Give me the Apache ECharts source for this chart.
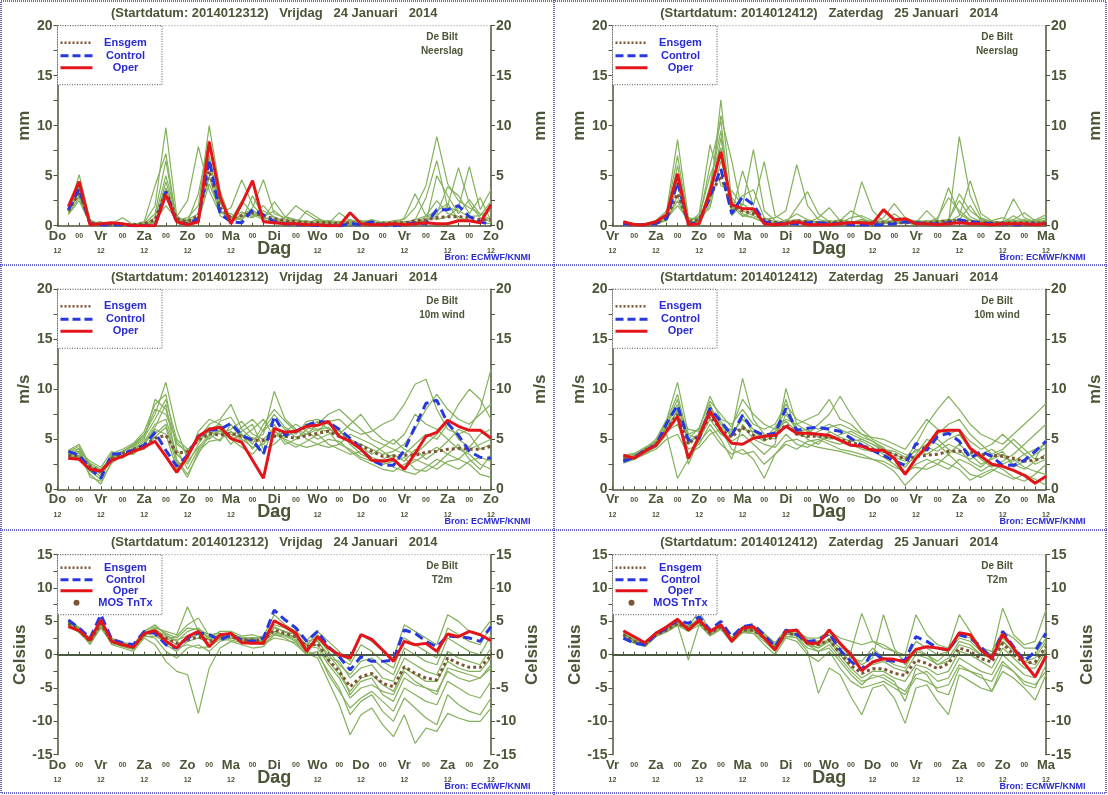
<!DOCTYPE html>
<html>
<head>
<meta charset="utf-8">
<title>De Bilt pluim</title>
<script src="https://cdn.jsdelivr.net/npm/echarts@6/dist/echarts.min.js"></script>
<style>
  html, body { margin: 0; padding: 0; background: #fff; }
  #chart { width: 1108px; height: 795px; }
</style>
</head>
<body>
<div id="chart"></div>
<script>
// forecast hours after start (every 6h)
var hours = [6,12,18,24,30,36,42,48,54,60,66,72,78,84,90,96,102,108,114,120,
             126,132,138,144,150,156,162,168,174,180,186,192,198,204,210,216,222,228,234,240];
var daysLeft  = ['Do','Vr','Za','Zo','Ma','Di','Wo','Do','Vr','Za','Zo'];
var daysRight = ['Vr','Za','Zo','Ma','Di','Wo','Do','Vr','Za','Zo','Ma'];
var titleLeft  = '(Startdatum: 2014012312)   Vrijdag   24 Januari   2014';
var titleRight = '(Startdatum: 2014012412)   Zaterdag   25 Januari   2014';

// ---- neerslag 23 jan 12 ----
var rainL_oper = [1.9,4.4,0.1,0.2,0.3,0.2,0.0,0.0,0.0,3.1,0.4,0.1,0.4,8.4,2.9,0.2,2.2,4.5,0.4,0.3,0.2,0.2,0.1,0.1,0.0,0.0,1.3,0.2,0.1,0.1,0.2,0.1,0.2,0.3,0.2,0.2,0.5,0.5,0.3,2.1];
var rainL_ctrl = [1.6,3.7,0.2,0.1,0.1,0.1,0.0,0.0,0.0,3.4,0.3,0.2,0.7,6.6,1.2,0.4,0.3,1.6,1.1,0.4,0.2,0.1,0.1,0.0,0.0,0.0,0.2,0.1,0.4,0.1,0.0,0.1,0.3,0.2,1.6,1.6,2.0,0.9,0.4,0.1];
var rainL_mean = [1.5,3.3,0.3,0.1,0.1,0.1,0.1,0.2,0.6,3.5,0.7,0.4,1.0,5.5,1.8,0.8,1.0,1.3,1.0,0.7,0.5,0.4,0.3,0.3,0.3,0.2,0.3,0.2,0.2,0.2,0.3,0.3,0.5,0.6,0.8,0.9,0.9,0.8,0.6,0.6];
var rainL_members = [
  [1.4,3.6,0.2,0.1,0.0,0.0,0.1,0.3,2.0,9.8,1.0,0.2,0.5,4.2,1.5,0.6,2.5,1.2,0.8,0.5,0.3,0.2,0.1,0.2,0.3,0.1,0.2,0.1,0.1,0.3,0.2,0.1,0.6,1.0,2.5,1.2,0.9,0.5,0.4,0.8],
  [1.6,3.0,0.1,0.0,0.1,0.2,0.0,0.1,0.4,3.0,0.5,0.8,2.0,10.0,3.5,0.5,1.0,0.8,1.5,0.9,0.4,0.6,0.2,0.4,0.2,0.3,0.4,0.2,0.3,0.2,0.5,0.6,1.8,4.0,8.9,4.2,2.5,1.8,1.2,0.6],
  [1.2,2.8,0.3,0.2,0.1,0.0,0.0,0.1,0.8,5.0,0.9,2.5,7.9,3.5,1.2,1.8,4.6,2.1,0.8,0.6,0.3,0.3,0.5,0.2,0.1,0.0,0.3,0.4,0.2,0.1,0.2,0.2,0.3,0.5,1.0,2.0,5.8,2.2,0.8,0.4],
  [1.8,4.2,0.4,0.1,0.1,0.1,0.2,0.1,0.5,2.0,0.6,0.3,0.6,6.5,2.2,0.9,0.6,1.8,4.6,1.2,0.8,0.5,0.3,0.6,0.4,0.2,0.1,0.3,0.6,0.3,0.1,0.8,3.2,1.0,0.6,0.9,1.8,5.9,1.6,3.6],
  [1.3,3.4,0.2,0.4,0.0,0.1,0.0,0.2,1.2,6.5,0.3,0.5,0.8,5.0,1.0,0.4,0.8,1.1,0.6,0.4,0.8,2.0,1.2,0.5,0.3,0.2,0.6,0.3,0.2,0.1,0.2,0.1,0.2,0.3,5.0,3.0,1.2,2.6,1.1,1.5],
  [1.5,5.1,0.6,0.1,0.2,0.8,0.1,0.0,0.3,3.8,0.8,0.2,0.4,7.0,1.3,1.2,0.5,3.0,0.9,1.5,0.6,0.3,0.2,0.3,0.5,0.4,0.2,0.1,0.1,0.4,0.3,0.2,0.3,0.9,1.5,2.2,0.6,0.5,0.3,0.2],
  [1.7,3.9,0.1,0.1,0.0,0.1,0.1,0.4,4.0,7.2,0.4,0.6,1.2,4.8,2.5,0.7,1.4,0.9,2.0,0.7,0.4,0.2,1.5,0.8,0.2,1.3,0.5,0.2,0.3,0.2,0.4,0.3,0.6,2.8,6.5,1.8,1.5,0.9,1.0,2.4],
  [1.1,2.5,0.2,0.0,0.1,0.0,0.0,0.2,0.2,4.4,0.6,0.4,3.2,8.5,1.6,0.3,1.2,1.6,0.7,2.4,0.9,0.6,0.4,0.2,0.1,0.2,0.3,0.5,0.4,0.1,0.2,0.4,0.4,0.6,1.2,3.9,3.0,1.2,2.8,0.5]
];

// ---- neerslag 24 jan 12 ----
var rainR_oper = [0.4,0.1,0.1,0.4,1.1,5.2,0.1,0.2,3.4,7.4,2.1,1.7,1.7,0.2,0.1,0.2,0.4,0.1,0.1,0.1,0.2,0.3,0.3,0.2,1.6,0.6,0.7,0.2,0.2,0.1,0.2,0.3,0.2,0.2,0.1,0.2,0.2,0.2,0.1,0.2];
var rainR_ctrl = [0.2,0.1,0.1,0.2,0.7,4.4,0.1,0.4,2.9,5.7,1.2,2.9,2.1,0.4,0.2,0.2,0.2,0.3,0.3,0.2,0.2,0.1,0.1,0.1,0.1,0.2,0.4,0.3,0.2,0.2,0.3,0.6,0.4,0.3,0.2,0.2,0.1,0.1,0.2,0.2];
var rainR_mean = [0.3,0.1,0.1,0.3,0.8,3.2,0.4,0.6,3.0,5.0,1.8,1.5,1.2,0.6,0.3,0.3,0.5,0.4,0.3,0.3,0.4,0.3,0.3,0.3,0.3,0.3,0.3,0.3,0.3,0.4,0.5,0.5,0.4,0.3,0.3,0.3,0.3,0.3,0.3,0.3];
var rainR_members = [
  [0.3,0.1,0.2,0.5,1.5,8.6,0.8,0.5,2.5,12.6,2.5,1.0,0.8,0.4,0.2,0.5,1.2,0.6,0.3,0.2,0.1,0.3,0.6,0.4,0.2,0.5,0.3,0.1,0.2,0.3,0.6,2.5,0.9,0.4,0.3,0.2,0.4,0.3,0.2,0.5],
  [0.2,0.0,0.1,0.2,0.6,2.5,0.2,1.2,8.1,4.0,3.5,2.0,7.6,1.5,0.5,0.3,0.2,0.3,0.2,0.5,0.3,0.2,0.4,0.3,0.2,0.4,0.6,0.3,0.5,0.4,0.3,8.9,3.0,0.8,0.4,0.3,0.5,0.6,0.3,0.2],
  [0.4,0.2,0.1,0.3,1.0,4.5,0.1,0.3,4.0,9.5,1.2,5.5,2.0,6.4,1.0,0.4,0.3,0.2,0.1,0.3,0.6,0.4,0.2,0.3,0.5,0.3,0.2,0.4,0.3,0.8,2.8,1.5,0.6,0.3,0.2,0.4,2.7,0.8,0.4,0.3],
  [0.3,0.1,0.0,0.4,0.9,6.0,0.5,0.8,1.8,6.5,2.8,1.5,1.0,0.6,0.8,1.5,6.1,2.0,0.6,0.4,0.3,0.8,1.0,0.5,0.3,1.2,0.4,0.3,0.2,0.5,0.4,1.0,4.5,1.2,0.5,0.8,0.4,0.3,0.6,1.1],
  [0.2,0.1,0.1,0.2,0.5,3.0,0.3,0.4,3.5,11.0,6.5,1.2,0.8,0.3,0.2,0.4,0.6,0.3,0.8,1.8,0.5,0.3,4.4,1.5,0.4,0.3,0.5,0.2,0.3,0.4,0.6,0.5,0.3,0.6,0.3,0.2,0.3,0.5,0.4,0.2],
  [0.4,0.2,0.1,0.3,0.7,2.0,0.6,0.9,5.0,7.8,1.5,3.0,3.6,0.8,0.4,0.2,1.8,3.4,1.2,0.4,0.2,0.3,0.6,0.3,0.8,2.2,0.8,0.4,0.3,0.6,3.8,1.2,0.5,0.3,0.2,0.3,1.0,0.4,0.3,0.6],
  [0.3,0.1,0.1,0.3,1.2,7.0,0.4,0.2,2.2,8.8,2.0,0.9,1.5,0.5,0.3,0.3,0.4,0.5,0.4,0.3,0.5,1.5,0.8,0.2,0.3,0.6,0.4,0.3,1.5,0.4,0.3,0.6,2.0,0.5,0.3,0.4,0.6,1.3,0.5,0.4],
  [0.2,0.1,0.1,0.4,0.8,4.0,0.2,0.7,6.0,10.5,1.0,2.2,1.4,0.4,0.2,0.6,0.3,0.2,0.3,0.2,0.4,0.2,0.3,0.5,0.3,0.2,0.3,0.5,0.4,0.2,0.5,3.2,1.5,0.7,0.4,0.3,0.2,0.4,0.5,0.8]
];

// ---- 10m wind 23 jan 12 ----
var windL_oper = [3.1,3.0,2.0,1.8,2.9,3.3,3.8,4.2,4.8,3.3,1.7,3.3,5.3,6.0,6.2,5.1,4.7,2.9,1.1,6.1,5.7,5.8,6.3,6.4,6.8,5.3,4.8,4.0,2.9,2.8,3.0,2.0,3.6,5.3,5.7,6.9,6.3,5.9,5.9,5.1];
var windL_ctrl = [3.8,3.4,2.1,1.1,3.5,3.6,3.9,4.4,5.7,3.9,2.3,3.4,5.3,5.9,6.0,6.6,5.4,4.9,3.5,7.3,5.4,5.8,6.4,6.8,6.7,6.0,5.1,4.1,2.9,2.4,2.4,3.9,6.3,8.6,8.9,6.6,5.4,3.8,3.2,3.1];
var windL_mean = [3.4,3.3,2.3,1.8,3.1,3.6,4.0,4.4,5.1,5.4,3.6,3.8,4.9,5.6,5.4,5.6,5.3,4.9,4.9,5.3,5.3,5.1,5.4,5.6,5.8,5.3,4.9,4.4,3.8,3.3,3.3,3.4,3.4,3.7,3.8,4.0,4.1,4.0,4.0,4.3];
var windL_members = [
  [3.5,4.0,2.5,1.5,3.2,3.8,4.5,5.5,7.5,10.7,6.0,3.0,5.8,7.0,6.5,5.0,5.5,4.0,6.0,7.5,6.2,5.5,6.8,7.0,6.5,5.8,5.0,4.5,4.0,3.5,3.8,4.5,6.0,8.0,9.5,8.0,7.0,6.5,7.5,8.5],
  [3.0,3.2,1.5,0.5,2.8,3.5,3.8,4.0,5.5,6.5,3.0,1.5,3.5,5.5,5.8,5.0,4.2,3.5,4.8,5.5,5.0,4.5,4.2,4.5,5.0,4.8,3.8,3.0,2.5,2.0,1.8,2.5,3.0,2.5,2.0,2.8,3.0,2.5,1.5,1.2],
  [3.8,4.3,2.2,1.2,3.5,3.3,4.2,5.0,9.0,8.0,4.5,3.8,5.0,6.5,7.0,8.5,6.0,5.0,5.5,9.8,7.0,6.0,5.5,6.5,7.5,8.0,7.0,6.0,5.0,4.5,4.0,3.5,4.5,5.5,5.0,6.5,8.5,10.0,9.0,7.0],
  [3.3,3.6,2.0,1.8,3.0,3.6,3.5,4.5,6.0,5.5,2.0,3.2,5.5,5.0,6.0,4.5,5.8,6.5,4.0,4.5,5.5,6.0,5.0,4.5,4.2,4.5,5.5,5.0,4.5,3.8,3.0,2.2,2.8,3.5,4.2,3.5,3.0,4.0,4.5,5.0],
  [3.6,3.8,2.8,2.2,3.8,3.2,4.0,4.8,6.5,7.0,3.5,2.5,4.5,6.2,5.5,6.0,6.8,5.5,5.0,6.0,4.5,5.0,6.0,6.8,6.0,5.5,6.5,7.5,6.0,5.0,4.5,5.5,7.5,6.5,6.0,5.0,4.0,3.5,2.5,2.0],
  [3.2,3.4,1.8,1.0,3.3,3.8,4.3,5.2,7.0,9.0,5.0,4.0,4.8,5.8,6.2,5.5,5.2,6.0,7.0,5.2,5.8,6.5,5.8,5.0,5.5,6.0,4.5,3.5,3.0,2.5,2.8,3.2,2.0,1.8,2.5,3.5,4.5,3.0,2.0,3.5],
  [3.9,4.5,2.4,1.5,3.6,4.0,4.6,5.8,8.5,9.5,4.0,2.0,4.0,5.2,6.8,7.2,5.5,4.5,6.5,8.0,6.8,5.8,6.2,5.8,6.8,7.0,6.0,5.5,5.8,6.5,7.0,8.5,10.5,11.0,8.0,6.0,5.5,6.0,8.0,12.0],
  [3.4,3.7,2.3,1.9,3.4,3.1,3.9,4.6,6.2,8.5,2.8,1.2,3.8,4.8,5.0,5.8,4.8,5.2,3.5,6.5,4.8,4.2,4.8,5.5,4.5,4.0,3.5,3.8,3.2,2.8,2.2,1.8,1.5,2.2,3.0,2.5,2.0,2.8,3.2,2.8],
  [3.1,3.3,2.6,2.0,3.1,3.7,4.4,5.4,8.0,7.5,4.8,3.5,5.2,6.0,6.5,5.2,6.2,7.0,5.8,7.0,6.0,5.2,5.5,6.0,6.2,5.2,4.8,4.2,3.5,4.2,5.0,4.0,3.5,4.5,5.5,6.8,5.0,4.2,5.5,6.0],
  [3.7,4.1,1.2,0.8,2.6,3.4,3.6,4.2,5.2,6.2,2.5,2.8,4.2,5.5,4.8,6.5,5.0,4.2,4.5,5.8,5.2,5.8,6.5,6.0,5.8,4.5,4.0,3.2,2.8,3.0,3.5,2.8,4.0,3.0,3.8,4.8,6.0,5.5,4.0,4.5]
];

// ---- 10m wind 24 jan 12 ----
var windR_oper = [3.4,3.1,3.8,4.4,5.8,7.3,3.1,5.3,7.8,5.9,4.6,4.5,5.1,5.3,5.4,6.3,5.6,5.6,5.5,5.4,4.9,4.4,4.3,3.9,3.9,3.1,1.5,3.1,4.3,5.8,5.9,5.9,4.1,3.3,2.5,2.3,1.9,1.4,0.6,1.3];
var windR_ctrl = [2.8,3.2,3.9,4.4,6.6,8.4,4.9,5.1,8.1,6.8,5.4,7.4,5.9,5.4,5.6,8.1,5.9,6.1,6.2,6.0,5.8,5.1,4.4,3.9,3.4,2.8,2.4,4.6,3.9,5.3,5.6,4.8,3.1,3.8,3.3,2.4,2.4,2.9,3.8,4.8];
var windR_mean = [3.0,3.2,3.9,4.5,6.0,7.5,4.5,5.5,7.3,6.0,5.2,6.2,5.4,5.0,5.2,6.5,5.5,5.3,5.3,5.2,5.0,4.7,4.4,4.0,3.8,3.5,3.0,3.3,3.4,3.5,3.8,3.8,3.7,3.5,3.4,3.3,3.1,2.8,2.9,3.3];
var windR_members = [
  [3.0,3.3,4.0,5.0,7.0,10.7,5.5,6.0,9.3,7.0,6.5,8.0,6.5,6.0,6.5,8.5,7.0,6.5,6.0,6.5,6.0,5.5,5.0,4.5,4.0,3.5,3.0,4.5,6.5,8.0,9.3,8.0,6.5,5.5,5.0,4.5,5.5,6.5,7.5,8.6],
  [2.6,3.0,3.6,4.2,5.5,1.1,3.0,4.8,6.0,4.5,3.5,4.0,3.0,1.1,3.5,4.5,4.0,4.8,5.0,4.5,4.0,3.8,3.5,3.0,2.5,1.8,0.4,1.5,2.5,3.0,2.5,2.0,0.9,1.5,2.0,1.5,1.0,1.5,1.0,0.4],
  [3.3,3.5,4.2,4.8,6.5,9.0,4.5,5.5,8.5,6.0,5.8,11.1,7.0,5.5,5.0,7.5,6.0,5.5,6.5,7.5,9.3,7.5,6.0,5.0,4.5,4.0,3.5,3.0,4.0,5.5,6.5,7.0,5.5,4.5,3.5,4.0,5.0,4.0,3.0,5.0],
  [2.8,3.1,3.8,4.5,6.0,8.0,2.5,5.0,7.0,5.5,4.8,5.5,4.5,3.5,4.5,10.1,6.5,5.8,5.5,5.0,5.5,5.8,5.2,4.8,4.2,3.0,2.2,3.5,5.0,4.5,3.5,4.5,3.5,2.5,3.0,3.5,2.5,2.0,2.8,3.5],
  [3.1,3.4,3.9,4.6,6.2,7.8,6.0,5.8,8.0,6.5,5.5,7.0,6.0,5.2,5.8,6.8,5.8,6.0,5.2,4.8,4.5,5.0,4.8,4.2,3.5,3.2,2.8,4.0,3.5,4.2,5.0,5.5,4.0,3.0,2.2,2.8,3.5,4.5,5.5,6.5],
  [2.9,3.2,3.7,4.3,5.8,6.5,4.0,4.5,6.5,5.0,3.0,6.5,5.0,4.5,4.2,5.5,4.5,4.2,4.8,5.2,5.0,4.5,4.0,3.8,3.2,2.5,1.5,2.5,3.0,2.5,2.0,3.0,2.5,1.8,2.5,2.0,1.2,0.8,1.5,2.5],
  [3.4,3.6,4.1,4.7,6.8,9.5,5.0,6.2,8.8,7.5,6.2,9.0,7.5,6.5,6.0,7.0,6.5,7.0,7.5,9.0,7.0,6.5,5.5,5.2,5.0,4.5,4.0,5.5,7.0,6.0,5.5,6.0,4.8,4.0,4.5,5.5,4.5,3.5,4.0,4.5],
  [2.7,3.0,3.5,4.0,5.0,5.5,3.5,4.2,5.5,6.0,4.0,3.5,3.8,2.5,3.5,4.8,5.0,4.5,4.2,4.0,3.8,3.5,3.2,3.0,2.8,2.2,1.8,2.2,2.0,2.5,3.5,2.5,1.5,1.2,1.8,2.5,3.0,2.2,1.8,1.5],
  [3.2,3.3,4.0,4.4,6.4,8.5,4.8,5.5,7.5,6.8,5.2,7.5,5.5,4.8,5.5,9.0,5.5,5.2,5.8,6.2,6.5,6.0,5.5,4.8,4.0,3.8,3.2,3.8,4.5,5.0,4.0,3.5,3.0,3.5,4.0,3.2,2.8,3.5,2.5,3.0],
  [3.0,3.2,3.8,4.6,6.0,7.2,5.5,5.0,8.2,6.2,6.0,6.0,5.8,5.0,6.2,7.8,6.2,5.0,4.5,5.8,5.2,4.8,5.0,4.5,3.8,3.0,2.5,3.2,4.2,3.8,4.5,4.0,2.8,2.2,3.2,3.8,2.2,2.8,3.5,4.2]
];

// ---- T2m 23 jan 12 ----
var tempL_oper = [4.2,3.6,2.2,5.2,2.0,1.5,1.1,3.2,3.6,2.0,1.0,2.7,3.5,1.2,3.0,3.2,1.8,1.7,1.7,5.1,4.2,3.2,0.5,2.7,1.0,0.0,-0.5,3.0,2.3,0.7,-1.0,2.0,1.5,1.7,0.5,3.1,2.7,3.5,3.0,2.1];
var tempL_ctrl = [5.2,4.0,2.5,6.0,2.3,1.8,1.5,3.5,3.2,1.5,1.0,2.5,3.3,3.0,2.2,3.0,2.2,2.0,2.5,6.7,5.2,4.0,2.0,3.5,1.2,-0.3,-2.3,-0.3,-1.0,-1.0,-0.8,3.7,3.2,2.0,1.2,2.8,2.7,2.5,2.0,4.2];
var tempL_mean = [4.7,3.7,2.0,4.7,2.0,1.5,1.2,3.0,3.5,2.5,1.7,2.2,2.7,2.0,2.7,2.7,2.2,2.2,2.1,3.7,3.2,2.7,1.2,1.7,-0.8,-2.5,-4.8,-3.3,-2.8,-4.3,-4.8,-1.8,-2.8,-3.5,-3.8,-0.5,-1.3,-1.9,-1.9,-0.1];
var tempL_members = [
  [4.5,3.5,2.3,5.0,2.5,1.8,1.5,3.5,4.5,3.0,2.0,3.5,4.0,2.5,3.5,3.5,2.8,3.0,2.5,4.5,4.0,3.0,1.5,3.0,1.0,-0.5,-1.5,1.5,0.5,-1.0,-2.0,2.5,1.5,0.5,-0.5,4.0,3.0,2.0,1.5,4.5],
  [5.0,4.0,1.8,4.5,1.5,1.0,0.5,2.5,1.5,-1.0,-2.5,-3.0,-8.8,-2.0,1.0,2.0,1.5,1.0,1.2,3.0,2.5,1.5,0.0,0.5,-3.0,-5.5,-8.0,-6.5,-5.5,-7.0,-8.5,-5.0,-6.0,-7.0,-7.5,-4.0,-5.0,-6.0,-6.5,-4.0],
  [4.8,3.8,2.5,4.8,2.2,1.6,1.0,3.2,4.0,3.5,3.0,7.2,3.5,2.5,3.0,3.0,2.5,2.5,2.8,6.0,4.5,3.5,2.0,2.5,0.5,-1.5,-3.0,-1.0,-0.5,-2.0,-3.0,1.0,0.0,-1.0,-1.5,2.5,1.5,0.5,0.0,3.0],
  [4.6,3.6,1.5,4.2,1.8,1.2,0.8,2.8,2.5,0.5,-0.5,1.0,1.5,0.5,2.0,2.5,2.0,1.8,1.5,3.0,2.8,2.0,0.5,0.0,-2.5,-5.0,-9.0,-7.0,-6.0,-8.5,-10.0,-6.5,-8.0,-9.5,-10.5,-6.0,-7.5,-8.5,-9.0,-6.5],
  [4.9,3.9,2.2,5.2,2.4,1.7,1.3,3.3,3.8,2.8,2.2,2.8,3.2,2.2,2.8,3.2,2.5,2.0,2.2,3.5,3.0,2.5,1.0,1.5,-1.0,-3.0,-5.5,-3.5,-3.0,-4.5,-5.5,-2.0,-3.0,-4.0,-4.0,-1.0,-2.0,-2.5,-2.5,-0.5],
  [4.4,3.4,1.9,4.6,2.1,1.4,1.1,3.0,3.2,1.5,0.5,2.0,2.5,1.8,2.5,2.8,2.0,2.3,1.8,4.0,3.5,3.0,1.5,2.0,0.0,-2.0,-6.0,-4.0,-3.5,-6.0,-7.0,-3.5,-4.5,-5.0,-5.5,-2.5,-3.5,-4.0,-3.5,-2.0],
  [5.1,4.1,2.4,5.0,2.3,1.6,1.4,3.6,4.2,3.2,2.5,4.0,3.8,3.0,3.2,3.0,2.6,2.4,2.6,5.0,4.2,3.5,2.2,3.5,2.0,0.5,-1.0,3.0,2.0,0.5,-0.5,4.5,3.5,2.5,1.5,6.0,5.0,3.5,3.0,5.2],
  [4.3,3.3,1.7,4.0,1.6,1.3,0.9,2.7,2.8,2.0,1.0,1.5,1.0,1.2,2.3,2.2,1.8,2.0,1.6,2.5,2.2,1.8,0.2,-0.5,-4.0,-7.5,-12.0,-9.0,-8.0,-10.5,-12.3,-9.0,-13.3,-11.0,-11.5,-8.8,-9.5,-10.0,-10.0,-8.0],
  [4.7,3.7,2.1,4.9,2.0,1.5,1.2,3.1,3.6,2.5,1.5,2.5,3.0,2.3,2.6,2.5,2.3,2.6,2.3,4.2,3.4,2.5,1.3,1.0,-1.5,-3.5,-6.5,-5.0,-4.5,-5.5,-6.0,-2.5,-4.0,-5.0,-6.0,-2.0,-2.5,-3.0,-3.5,-1.5],
  [4.6,3.6,2.0,4.4,2.2,1.8,1.5,3.4,3.4,2.2,2.8,4.5,5.5,2.8,2.4,3.4,2.2,1.6,2.0,3.2,3.0,2.2,0.8,2.2,-0.5,-1.0,-3.5,-2.0,-1.5,-3.5,-4.0,-0.5,-1.5,-2.5,-3.0,0.5,-0.5,-1.0,-1.5,1.0]
];

// ---- T2m 24 jan 12 ----
var tempR_oper = [3.6,2.7,1.8,3.2,4.2,5.3,3.7,5.2,3.5,4.5,2.0,4.0,4.2,2.5,0.7,3.5,3.7,1.7,1.7,3.7,1.7,0.0,-2.4,-1.1,-0.6,-0.7,-1.1,0.8,1.2,1.0,0.7,3.3,3.0,0.7,-0.6,3.1,1.0,-1.3,-3.3,-0.2];
var tempR_ctrl = [2.5,1.7,1.5,3.0,4.0,5.2,4.7,5.7,3.7,5.0,2.7,4.2,4.5,3.0,1.2,3.7,3.0,2.0,2.2,3.2,0.7,-1.0,-2.3,0.5,-0.8,-1.0,-0.8,2.7,2.0,1.0,0.7,3.0,2.5,1.2,-0.6,3.5,1.2,-1.0,0.5,3.2];
var tempR_mean = [3.0,2.0,1.5,3.0,3.7,4.7,4.0,5.0,3.2,4.2,2.2,3.7,3.7,2.5,1.0,3.2,3.0,1.7,1.5,2.2,0.2,-1.6,-2.8,-2.1,-2.1,-2.8,-3.1,-0.8,-1.3,-2.1,-1.3,1.0,0.5,-0.6,-1.1,1.7,0.0,-1.3,-1.1,1.2];
var tempR_members = [
  [3.2,2.2,1.8,3.4,4.0,5.0,4.3,6.5,3.5,4.5,2.5,4.0,4.0,3.0,1.5,3.5,3.5,2.5,2.5,3.5,2.5,2.0,1.5,2.0,1.0,0.5,0.0,6.0,3.0,1.5,1.0,6.0,3.5,1.0,0.0,7.0,3.0,1.5,2.0,6.7],
  [2.8,1.8,1.3,2.8,3.5,4.5,-0.8,4.5,3.0,4.0,2.0,3.5,3.2,1.5,0.0,2.5,2.0,0.0,-1.0,0.5,-2.0,-4.0,-5.0,-4.5,-4.0,-5.0,-6.0,-3.5,-4.0,-5.0,-4.5,-1.5,-2.5,-3.5,-4.0,-1.0,-2.5,-4.0,-4.5,-2.5],
  [3.1,2.1,1.6,3.1,3.8,4.8,4.1,5.2,3.3,4.3,2.3,3.8,3.8,2.6,1.2,3.4,3.2,1.8,1.0,2.5,1.0,0.5,6.2,2.0,1.5,0.5,-1.0,2.0,1.0,0.0,0.5,3.0,2.5,1.0,0.5,3.5,2.5,1.0,1.0,3.5],
  [2.9,1.9,1.4,2.9,3.6,4.6,3.8,4.8,3.0,4.0,2.0,3.5,3.5,2.3,0.8,2.8,2.5,0.5,-5.8,-2.0,-3.0,-6.3,-9.0,-5.0,-4.5,-6.5,-10.3,-5.0,-4.5,-7.0,-9.0,-3.0,-4.0,-5.0,-5.5,-2.5,-3.5,-5.0,-6.8,-3.0],
  [3.0,2.0,1.5,3.0,3.7,4.7,4.0,5.0,3.2,4.2,2.2,3.7,3.7,2.5,1.0,3.2,3.0,1.5,1.0,2.0,0.0,-2.0,-3.5,-2.5,-2.5,-3.5,-4.0,-1.5,-2.0,-3.0,-2.5,0.5,0.0,-1.0,-2.0,1.0,-0.5,-2.0,-2.0,0.5],
  [3.3,2.3,1.7,3.2,3.9,4.9,4.2,5.5,3.6,4.6,2.6,4.2,4.3,3.2,1.8,3.8,3.6,2.2,2.0,3.0,1.5,-0.5,-1.0,1.0,-0.5,-1.5,-2.0,1.0,0.0,-1.0,0.5,2.5,2.0,0.5,-0.5,2.5,1.0,-0.5,0.0,2.5],
  [2.7,1.7,1.2,2.7,3.4,4.4,3.5,4.5,2.8,3.8,1.8,3.3,3.2,2.0,0.5,2.7,2.6,1.0,0.5,1.0,-1.0,-3.0,-4.5,-3.0,-3.5,-4.5,-5.5,-3.0,-2.5,-4.0,-3.5,-0.5,-1.5,-2.5,-3.0,0.0,-1.5,-3.0,-3.5,-0.5],
  [3.1,2.1,1.6,3.1,3.8,4.8,4.2,5.2,3.4,4.4,2.4,3.9,3.9,2.7,1.3,3.3,3.1,2.0,2.0,3.0,1.5,0.0,-1.5,-0.5,6.0,1.0,-1.5,0.5,0.0,-1.5,-0.5,2.0,1.5,0.0,-0.5,2.0,0.5,-1.0,-0.5,2.0],
  [2.9,1.9,1.4,2.9,3.6,4.6,3.9,4.9,3.1,4.1,2.1,3.6,3.6,2.4,0.9,3.1,2.9,1.5,0.5,1.5,-0.5,-2.5,-4.0,-3.5,-3.0,-4.0,-7.0,-2.0,-3.0,-5.5,-6.0,-2.0,-2.5,-3.0,-5.5,-1.5,-2.5,-4.5,-5.0,-1.5],
  [3.0,2.0,1.5,3.0,3.7,4.7,4.1,5.1,3.2,4.2,2.2,3.6,3.6,2.5,1.1,3.2,3.0,1.8,1.5,2.2,0.5,-1.0,-2.0,-1.5,-1.0,-2.0,-2.5,0.0,-0.5,-1.5,-1.0,1.5,1.0,0.0,-0.5,2.0,0.5,-1.0,-1.5,1.0]
];

var FONT = '"Liberation Sans", Arial, sans-serif';
var OLIVE = '#4b5637';
var GREEN = '#84b15c';
var BROWN = '#7d5534';
var BLUE = '#2838df';
var RED = '#e4141b';
var LEGBLUE = '#2a2ad2';

var COLX = [57.5, 612.5], GW = 433.5;
var ROWY = [25.7, 289.3, 554.7], GH = 200;

var panels = [
  {col:0,row:0,title:titleLeft, days:daysLeft, unit:'mm',     what:'Neerslag', min:0,  max:20, oper:rainL_oper, ctrl:rainL_ctrl, mean:rainL_mean, members:rainL_members},
  {col:1,row:0,title:titleRight,days:daysRight,unit:'mm',     what:'Neerslag', min:0,  max:20, oper:rainR_oper, ctrl:rainR_ctrl, mean:rainR_mean, members:rainR_members},
  {col:0,row:1,title:titleLeft, days:daysLeft, unit:'m/s',    what:'10m wind', min:0,  max:20, oper:windL_oper, ctrl:windL_ctrl, mean:windL_mean, members:windL_members},
  {col:1,row:1,title:titleRight,days:daysRight,unit:'m/s',    what:'10m wind', min:0,  max:20, oper:windR_oper, ctrl:windR_ctrl, mean:windR_mean, members:windR_members},
  {col:0,row:2,title:titleLeft, days:daysLeft, unit:'Celsius',what:'T2m',      min:-15,max:15, oper:tempL_oper, ctrl:tempL_ctrl, mean:tempL_mean, members:tempL_members, mos:true},
  {col:1,row:2,title:titleRight,days:daysRight,unit:'Celsius',what:'T2m',      min:-15,max:15, oper:tempR_oper, ctrl:tempR_ctrl, mean:tempR_mean, members:tempR_members, mos:true}
];

function pairs(vals) {
  return vals.map(function (v, i) { return [hours[i], v]; });
}

var grids = [], xAxes = [], yAxes = [], series = [], graphics = [];

panels.forEach(function (p, i) {
  var gx = COLX[p.col], gy = ROWY[p.row];
  grids.push({ left: gx, top: gy, width: GW, height: GH });

  xAxes.push({
    type: 'value', gridIndex: i, min: 0, max: 240, interval: 6,
    axisLine: { lineStyle: { color: OLIVE, width: 1.5 } },
    axisTick: { inside: true, length: 3, lineStyle: { color: OLIVE } },
    splitLine: { show: false },
    axisLabel: {
      margin: 3, showMinLabel: true, showMaxLabel: true,
      formatter: function (v) {
        if (v % 24 === 0) return '{d|' + p.days[v / 24] + '}\n{s|12}';
        if (v % 24 === 12) return '{z|00}\n{s| }';
        return '';
      },
      rich: {
        d: { fontFamily: FONT, fontSize: 13, fontWeight: 'bold', color: OLIVE, lineHeight: 15 },
        z: { fontFamily: FONT, fontSize: 7, fontWeight: 'bold', color: OLIVE, lineHeight: 15 },
        s: { fontFamily: FONT, fontSize: 7, fontWeight: 'bold', color: OLIVE, lineHeight: 15 }
      }
    }
  });

  ['left', 'right'].forEach(function (pos) {
    yAxes.push({
      type: 'value', gridIndex: i, position: pos, min: p.min, max: p.max, interval: 2.5,
      name: p.unit, nameLocation: 'middle', nameRotate: 90,
      nameGap: pos === 'left' ? 19 : (p.mos ? 33 : 41),
      nameTextStyle: { fontFamily: FONT, fontSize: 17, fontWeight: 'bold', color: OLIVE },
      axisLine: { show: true, onZero: false, lineStyle: { color: OLIVE, width: 1.5 } },
      axisTick: { show: true, length: 4, lineStyle: { color: OLIVE } },
      splitLine: { show: false },
      axisLabel: {
        margin: 5, fontFamily: FONT, fontSize: 14, fontWeight: 'bold', color: OLIVE,
        formatter: function (v) { return v % 5 === 0 ? String(v) : ''; }
      }
    });
  });

  var yi = 2 * i;
  p.members.forEach(function (m, k) {
    var s = {
      type: 'line', xAxisIndex: i, yAxisIndex: yi, data: pairs(m), showSymbol: false, symbol: 'none',
      lineStyle: { color: GREEN, width: 1.2 }, silent: true, z: 2
    };
    if (p.mos && k === 0) {
      s.markLine = {
        silent: true, symbol: 'none', label: { show: false },
        lineStyle: { color: '#4a5a40', width: 2, type: 'solid' },
        data: [{ yAxis: 0 }]
      };
    }
    series.push(s);
  });
  series.push({ type: 'line', xAxisIndex: i, yAxisIndex: yi, data: pairs(p.mean), symbol: 'none',
    lineStyle: { color: BROWN, width: 3, type: [3, 3] }, z: 4 });
  series.push({ type: 'line', xAxisIndex: i, yAxisIndex: yi, data: pairs(p.ctrl), symbol: 'none',
    lineStyle: { color: BLUE, width: 3, type: [9, 5] }, z: 5 });
  series.push({ type: 'line', xAxisIndex: i, yAxisIndex: yi, data: pairs(p.oper), symbol: 'none',
    lineStyle: { color: RED, width: 3 }, z: 6 });

  // title, labels
  graphics.push({ type: 'text', x: gx + GW / 2, y: gy - 12, z: 10,
    style: { text: p.title, fill: OLIVE, font: 'bold 13px ' + FONT, textAlign: 'center', textVerticalAlign: 'middle' } });
  graphics.push({ type: 'text', x: gx + 384.5, y: gy + 12, z: 10,
    style: { text: 'De Bilt', fill: OLIVE, font: 'bold 10px ' + FONT, textAlign: 'center', textVerticalAlign: 'middle' } });
  graphics.push({ type: 'text', x: gx + 384.5, y: gy + 26, z: 10,
    style: { text: p.what, fill: OLIVE, font: 'bold 10px ' + FONT, textAlign: 'center', textVerticalAlign: 'middle' } });
  graphics.push({ type: 'text', x: gx + GW / 2, y: gy + GH + 23, z: 10,
    style: { text: 'Dag', fill: OLIVE, font: 'bold 18px ' + FONT, textAlign: 'center', textVerticalAlign: 'middle' } });
  graphics.push({ type: 'text', x: gx + 473, y: gy + GH + 32, z: 10,
    style: { text: 'Bron: ECMWF/KNMI', fill: LEGBLUE, font: 'bold 9px ' + FONT, textAlign: 'right', textVerticalAlign: 'middle' } });
  // dotted top border of plot frame
  graphics.push({ type: 'line', z: 10, shape: { x1: gx, y1: gy, x2: gx + GW, y2: gy },
    style: { stroke: '#8a8a8a', lineWidth: 1, lineDash: [1, 2] } });

  // legend box
  var lh = p.mos ? 60 : 59;
  graphics.push({ type: 'rect', z: 10, shape: { x: gx, y: gy, width: 104.5, height: lh },
    style: { fill: '#fff', stroke: '#555', lineWidth: 1, lineDash: [1, 1.5] } });
  var rows = p.mos ? [13, 25, 36] : [17, 30, 42];
  var lab = ['Ensgem', 'Control', 'Oper'];
  var sty = [
    { stroke: BROWN, lineWidth: 2.5, lineDash: [2, 2] },
    { stroke: BLUE, lineWidth: 3, lineDash: [8, 4] },
    { stroke: RED, lineWidth: 3 }
  ];
  rows.forEach(function (ry, k) {
    graphics.push({ type: 'line', z: 11, shape: { x1: gx + 3, y1: gy + ry, x2: gx + 35, y2: gy + ry }, style: sty[k] });
    graphics.push({ type: 'text', x: gx + 68, y: gy + ry, z: 11,
      style: { text: lab[k], fill: LEGBLUE, font: 'bold 11px ' + FONT, textAlign: 'center', textVerticalAlign: 'middle' } });
  });
  if (p.mos) {
    graphics.push({ type: 'circle', z: 11, shape: { cx: gx + 19, cy: gy + 48, r: 3 }, style: { fill: BROWN } });
    graphics.push({ type: 'text', x: gx + 68, y: gy + 48, z: 11,
      style: { text: 'MOS TnTx', fill: LEGBLUE, font: 'bold 11px ' + FONT, textAlign: 'center', textVerticalAlign: 'middle' } });
  }
});

// panel separators
var SEP = { stroke: '#3a3ab8', lineWidth: 1.5, lineDash: [1, 1] };
graphics.push({ type: 'line', z: 12, shape: { x1: 0, y1: 265, x2: 1108, y2: 265 }, style: SEP });
graphics.push({ type: 'line', z: 12, shape: { x1: 0, y1: 530, x2: 1108, y2: 530 }, style: SEP });
graphics.push({ type: 'line', z: 12, shape: { x1: 554, y1: 0, x2: 554, y2: 795 }, style: SEP });
graphics.push({ type: 'rect', z: 12, shape: { x: 1, y: 1, width: 1105, height: 792 },
  style: { fill: 'none', stroke: '#3a3ab8', lineWidth: 1.5, lineDash: [1, 1] } });

var chart = echarts.init(document.getElementById('chart'), null, { renderer: 'canvas' });
chart.setOption({
  animation: false,
  backgroundColor: '#fff',
  grid: grids,
  xAxis: xAxes,
  yAxis: yAxes,
  series: series,
  graphic: graphics
});
</script>
</body>
</html>
